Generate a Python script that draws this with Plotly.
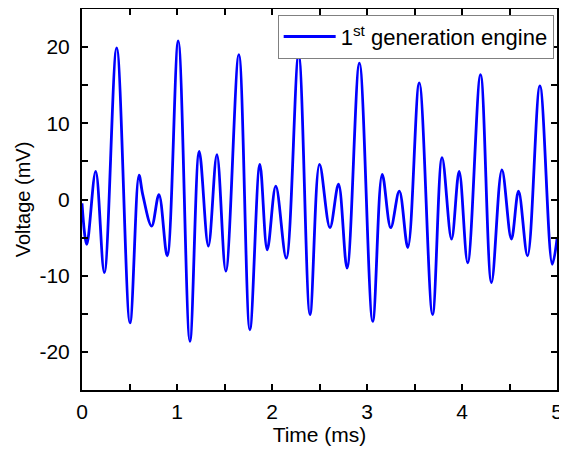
import plotly.graph_objects as go

# Time (ms) and voltage (mV)
time_ms = [0.0, 0.05, 0.144, 0.235, 0.365, 0.505, 0.60, 0.64, 0.733, 0.81, 0.897,
           1.013, 1.136, 1.234, 1.33, 1.42, 1.514, 1.651, 1.767, 1.872, 1.95,
           2.04, 2.15, 2.28, 2.40, 2.50, 2.61, 2.70, 2.79, 2.92, 3.06, 3.16,
           3.25, 3.34, 3.43, 3.55, 3.69, 3.79, 3.89, 3.97, 4.06, 4.195, 4.31,
           4.42, 4.52, 4.595, 4.69, 4.82, 4.95, 5.0]
voltage_mv = [-0.5, -5.9, 3.7, -9.6, 19.9, -16.2, 3.2, 0.6, -3.5, 0.65, -7.4,
              20.8, -18.6, 6.3, -6.1, 5.9, -9.4, 19.0, -17.1, 4.6, -6.6,
              1.75, -7.7, 19.0, -15.1, 4.6, -3.7, 2.0, -9.0, 17.9, -16.0, 3.3,
              -3.7, 1.1, -6.3, 15.3, -15.1, 5.5, -5.2, 3.7, -8.3, 16.4, -10.9,
              3.9, -5.2, 1.1, -7.4, 14.9, -8.5, -5.2]

x_tickvals = [0, 0.5, 1, 1.5, 2, 2.5, 3, 3.5, 4, 4.5, 5]
x_ticktext = ["0", "", "1", "", "2", "", "3", "", "4", "", "5"]
y_tickvals = [-25, -20, -15, -10, -5, 0, 5, 10, 15, 20, 25]
y_ticktext = ["", "-20", "", "-10", "", "0", "", "10", "", "20", ""]

series_name = "1<sup>st</sup> generation engine"

font_family = "Arial, Liberation Sans, sans-serif"

fig = go.Figure()
fig.add_trace(go.Scatter(
    x=time_ms, y=voltage_mv, mode="lines", name=series_name,
    line=dict(color="#0000ff", width=2.8, shape="spline", smoothing=1.0),
))

axis_common = dict(
    showline=True, linecolor="black", linewidth=2, mirror="allticks",
    ticks="inside", ticklen=6, tickwidth=1.5, tickcolor="black",
    showgrid=False, zeroline=False, automargin=False,
    tickfont=dict(family=font_family, size=21, color="black"),
)

# the page body adds an 8 px offset, so the figure is sized 8 px smaller
fig.update_layout(
    width=559, height=443,
    margin=dict(l=74, r=10, t=1, b=61),
    paper_bgcolor="white", plot_bgcolor="white",
    font=dict(family=font_family, size=20, color="black"),
    xaxis=dict(range=[0, 5], tickmode="array", tickvals=x_tickvals,
               ticktext=x_ticktext, ticklabelstandoff=2,
               title=dict(text="Time (ms)", standoff=2,
                          font=dict(family=font_family, size=21)),
               **axis_common),
    yaxis=dict(range=[-25, 25], tickmode="array", tickvals=y_tickvals,
               ticktext=y_ticktext, ticklabelstandoff=6,
               title=dict(text="Voltage (mV)", standoff=3,
                          font=dict(family=font_family, size=20)),
               **axis_common),
    showlegend=True,
    legend=dict(x=0.993, xanchor="right", y=0.985, yanchor="top",
                bgcolor="white", bordercolor="#808080", borderwidth=1,
                itemwidth=52,
                font=dict(family=font_family, size=22, color="black")),
)

fig.write_html("out.html")
